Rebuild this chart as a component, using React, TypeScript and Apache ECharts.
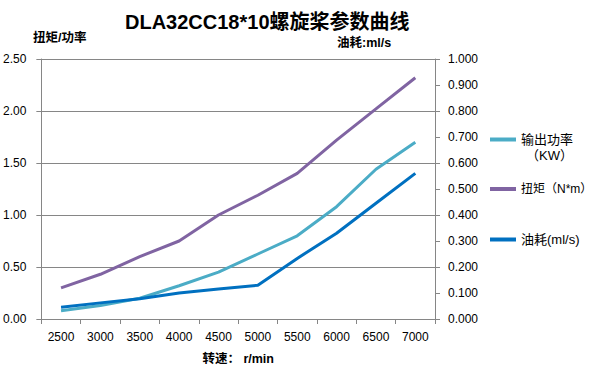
import React, { useEffect, useRef } from "react";
import * as echarts from "echarts";

const categories = ["2500", "3000", "3500", "4000", "4500", "5000", "5500", "6000", "6500", "7000"];
const powerKW = [0.08, 0.13, 0.2, 0.32, 0.45, 0.625, 0.8, 1.08, 1.44, 1.7];
const torqueNm = [0.3, 0.43, 0.6, 0.75, 1.0, 1.19, 1.4, 1.72, 2.02, 2.32];
const oilMls = [0.045, 0.062, 0.078, 0.1, 0.115, 0.13, 0.233, 0.33, 0.445, 0.56];

const titleText = "DLA32CC18*10螺旋桨参数曲线";
const leftAxisName = "扭矩/功率";
const rightAxisName = "油耗:ml/s";
const xAxisName = "转速： r/min";
const seriesNames = ["输出功率（KW）", "扭矩（N*m）", "油耗(ml/s)"];

const FONT = "'Liberation Sans', 'Noto Sans CJK SC', sans-serif";
const GRID = "#868686";

export default function App() {
  const ref = useRef<HTMLDivElement>(null);
  useEffect(() => {
    if (!ref.current) return;
    const chart = echarts.init(ref.current, null, { renderer: "svg" });
    const legendBase = {
      orient: "vertical",
      left: 490,
      padding: 0,
      itemWidth: 26,
      itemHeight: 4,
      icon: "rect",
      textStyle: { fontFamily: FONT, fontSize: 13, color: "#000" },
    };
    chart.setOption({
      animation: false,
      textStyle: { fontFamily: FONT },
      title: {
        text: titleText,
        left: 120,
        top: 7,
        textStyle: { fontFamily: FONT, fontSize: 20, fontWeight: "bold", color: "#000" },
      },
      legend: [
        { ...legendBase, top: 133, data: [seriesNames[0]], formatter: () => "输出功率" },
        { ...legendBase, top: 183, data: [seriesNames[1]], textStyle: { ...legendBase.textStyle, fontSize: 12 } },
        { ...legendBase, top: 233, data: [seriesNames[2]] },
      ],
      graphic: [
        { type: "text", left: 526, top: 149, style: { text: "（KW）", font: `13px ${FONT}`, fill: "#000" } },
        { type: "text", left: 33, top: 32, style: { text: leftAxisName, font: `bold 12.5px ${FONT}`, fill: "#000" } },
        { type: "text", left: 337, top: 37, style: { text: rightAxisName, font: `bold 12.5px ${FONT}`, fill: "#000" } },
      ],
      grid: { left: 41, right: 160, top: 59, bottom: 60, containLabel: false },
      xAxis: {
        type: "category",
        data: categories,
        boundaryGap: true,
        name: xAxisName,
        nameLocation: "middle",
        nameGap: 34,
        nameTextStyle: { fontFamily: FONT, fontSize: 12.5, fontWeight: "bold", color: "#000" },
        axisLine: { lineStyle: { color: GRID, width: 1 } },
        axisTick: { show: true, length: 5, alignWithLabel: false, lineStyle: { color: GRID } },
        axisLabel: { fontFamily: FONT, fontSize: 12, color: "#000", margin: 12, interval: 0 },
      },
      yAxis: [
        {
          type: "value",
          min: 0,
          max: 2.5,
          interval: 0.5,
          axisLine: { show: true, lineStyle: { color: GRID } },
          axisTick: { show: true, length: 5, lineStyle: { color: GRID } },
          splitLine: { show: true, lineStyle: { color: GRID, width: 1 } },
          axisLabel: { fontFamily: FONT, fontSize: 12, color: "#000", margin: 15, formatter: (v: number) => v.toFixed(2) },
        },
        {
          type: "value",
          min: 0,
          max: 1,
          interval: 0.1,
          position: "right",
          axisLine: { show: true, lineStyle: { color: GRID } },
          axisTick: { show: true, length: 5, lineStyle: { color: GRID } },
          splitLine: { show: false },
          axisLabel: { fontFamily: FONT, fontSize: 12, color: "#000", margin: 13, formatter: (v: number) => v.toFixed(3) },
        },
      ],
      series: [
        {
          name: seriesNames[0],
          type: "line",
          data: powerKW,
          yAxisIndex: 0,
          symbol: "none",
          color: "#4BACC6",
          lineStyle: { width: 3, color: "#4BACC6" },
        },
        {
          name: seriesNames[1],
          type: "line",
          data: torqueNm,
          yAxisIndex: 0,
          symbol: "none",
          color: "#8064A2",
          lineStyle: { width: 3, color: "#8064A2" },
        },
        {
          name: seriesNames[2],
          type: "line",
          data: oilMls,
          yAxisIndex: 1,
          symbol: "none",
          color: "#0070C0",
          lineStyle: { width: 3, color: "#0070C0" },
        },
      ],
    });
    return () => chart.dispose();
  }, []);
  return <div ref={ref} style={{ width: 595, height: 379, position: "absolute", left: 0, top: 0, background: "#fff" }} />;
}
